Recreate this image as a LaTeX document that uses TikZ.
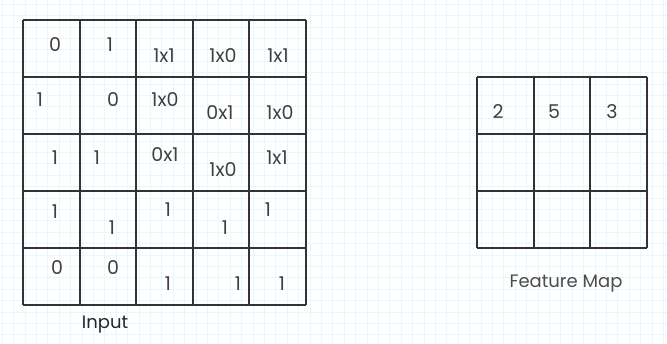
\documentclass[tikz,border=0pt]{standalone}
\usepackage{fontspec}
\setmainfont{Poppins}
\begin{document}
\begin{tikzpicture}[x=1pt,y=-1pt,
  paper/.style={draw=cyan!10,line width=0.5pt},
  cellline/.style={draw=black!80,line width=2pt},
  val/.style={text=black!75,font=\fontsize{19}{19}\selectfont,inner sep=0pt},
  label/.style={text=black!70,font=\fontsize{18}{18}\selectfont,inner sep=0pt}]
\useasboundingbox (0,0) rectangle (667,343);
\fill[white] (0,0) rectangle (667,343);
% graph paper
\foreach \i in {0,...,58} \draw[paper] (2+11.4*\i,0) -- (2+11.4*\i,343);
\foreach \i in {0,...,30} \draw[paper] (0,4+11.4*\i) -- (667,4+11.4*\i);
% input grid
\foreach \i in {0,...,5} {
  \draw[cellline] (23+56.6*\i,20) -- (23+56.6*\i,305);
  \draw[cellline] (23,20+57*\i) -- (306,20+57*\i);
}
% feature map grid
\foreach \i in {0,...,3} {
  \draw[cellline] (477+56.6*\i,77) -- (477+56.6*\i,248);
  \draw[cellline] (477,77+57*\i) -- (647,77+57*\i);
}
% row 1
\node[val] (a11) at (55,45) {0};
\node[val] (a12) at (110,45) {1};
\node[val] (a13) at (164,56) {1x1};
\node[val] (a14) at (223,56) {1x0};
\node[val] (a15) at (278,56) {1x1};
% row 2
\node[val] (a21) at (40,100) {1};
\node[val] (a22) at (113,100) {0};
\node[val] (a23) at (165,100) {1x0};
\node[val] (a24) at (220,113) {0x1};
\node[val] (a25) at (280,113) {1x0};
% row 3
\node[val] (a31) at (55,158) {1};
\node[val] (a32) at (97,158) {1};
\node[val] (a33) at (165,155) {0x1};
\node[val] (a34) at (223,170) {1x0};
\node[val] (a35) at (277,158) {1x1};
% row 4
\node[val] (a41) at (55,212) {1};
\node[val] (a42) at (112,228) {1};
\node[val] (a43) at (168,210) {1};
\node[val] (a44) at (225,228) {1};
\node[val] (a45) at (268,210) {1};
% row 5
\node[val] (a51) at (57,268) {0};
\node[val] (a52) at (113,268) {0};
\node[val] (a53) at (168,284) {1};
\node[val] (a54) at (238,284) {1};
\node[val] (a55) at (282,284) {1};
% feature map
\node[val] (f1) at (498,112) {2};
\node[val] (f2) at (554,112) {5};
\node[val] (f3) at (612,112) {3};
% captions
\node[label,text=black!85,font=\fontsize{18}{18}\selectfont] (input) at (105,325) {Input};
\node[label] (fmap) at (566,284) {Feature Map};
\end{tikzpicture}
\end{document}
